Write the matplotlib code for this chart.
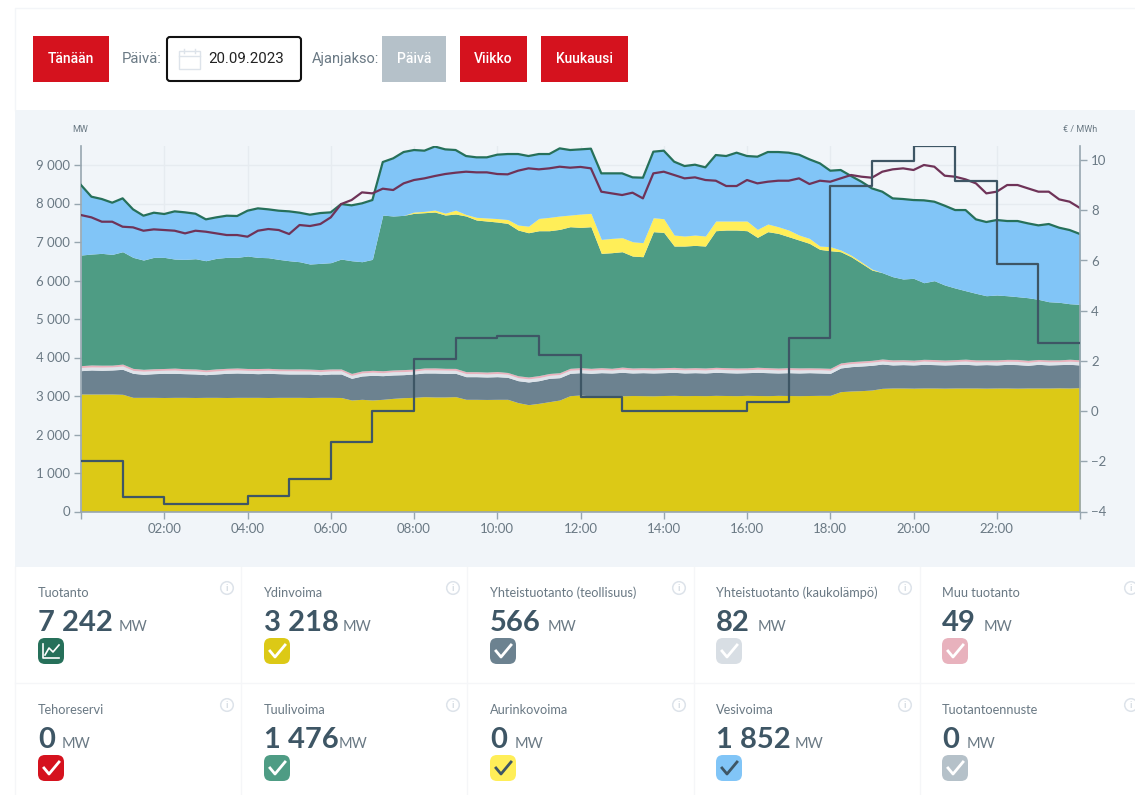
import numpy as np
import matplotlib
matplotlib.use("Agg")
from matplotlib import pyplot as plt
from matplotlib.patches import Rectangle, FancyBboxPatch, Circle

plt.rcParams['font.family'] = ['Lato', 'DejaVu Sans']

# values, one per 15 min from 00:00 to 24:00
top_nuclear = [3052,3052,3052,3052,3044,2965,2965,2965,2961,2965,2965,2961,2965,2965,2961,2965,2965,2965,2961,2965,2965,2965,2961,2965,2965,2961,
               2896,2914,2896,2914,2939,2957,2965,2983,2975,2975,2983,2914,2914,2910,2914,2914,2827,2775,2810,2853,2896,3009,3026,3000,
               3000,3009,3005,3013,3009,3005,3013,3017,3009,3013,3009,3017,3013,3009,3017,3013,3009,3017,3013,3009,3013,3017,3017,
               3113,3130,3139,3156,3199,3208,3208,3204,3208,3208,3204,3208,3208,3208,3204,3208,3208,3204,3208,3208,3208,3212,3208,3217]
top_chp_ind = [3658,3676,3667,3676,3693,3589,3563,3580,3589,3589,3580,3572,3554,3572,3589,3598,3589,3580,3589,3580,3572,3572,3572,3554,3572,3572,
               3459,3520,3537,3528,3546,3554,3572,3598,3598,3589,3589,3502,3502,3494,3502,3485,3398,3364,3398,3459,3476,3589,3606,3589,
               3606,3598,3615,3598,3606,3598,3606,3615,3598,3606,3598,3615,3606,3598,3606,3615,3606,3598,3606,3598,3606,3598,3589,
               3728,3762,3779,3797,3831,3806,3815,3806,3823,3815,3806,3815,3823,3806,3815,3806,3823,3815,3797,3823,3806,3815,3823,3806]
chp_district = [82,78,84,80,86,76,82,78,80,84,78,82,76,80,84,80,78,82,80,76,84,80,78,82,80,84,
                76,80,82,78,84,80,76,82,80,84,78,80,82,76,84,80,78,82,80,76,84,80,78,82,
                80,76,84,82,78,80,84,76,82,80,78,84,80,82,76,80,84,78,82,80,76,84,80,
                78,82,80,84,78,82,80,76,84,80,78,82,84,80,76,82,80,84,78,80,82,76,80,84]
other_prod = [48,52,50,46,50,52,48,50,46,52,50,48,50,52,46,50,48,52,50,50,46,52,48,50,50,46,
              52,50,48,50,46,52,50,48,52,46,50,50,48,52,50,46,50,48,52,50,46,50,52,48,
              50,46,52,48,50,50,46,52,48,50,52,46,50,48,50,52,46,50,48,52,50,46,50,
              52,48,50,46,52,50,48,50,46,52,50,48,50,52,46,50,48,50,52,46,50,48,52,49]
top_wind = [6661,6687,6705,6678,6748,6601,6531,6601,6601,6557,6549,6566,6514,6575,6601,6601,6636,6601,6592,6549,6514,6488,6428,6445,6463,
            6557,6514,6488,6549,7700,7675,7692,7744,7761,7779,7700,7727,7675,7571,7545,7519,7484,7311,7241,7293,7293,7328,7397,7380,
            7397,6705,6722,6748,6635,6618,7268,7250,6895,6895,6912,6895,7293,7311,7311,7293,7120,7268,7224,7138,7051,6964,6808,6774,
            6748,6618,6446,6272,6203,6099,6039,6057,5943,5995,5883,5805,5735,5667,5605,5623,5605,5580,5553,5511,5449,5434,5397,5381]
solar = [0,0,0,0,0,0,0,0,0,0,0,0,0,0,0,0,0,0,0,0,0,0,0,0,0,0,0,0,0,0,0,0,
         35,35,50,50,100,40,70,80,90,100,130,170,320,347,347,303,346,347,363,372,364,373,364,363,355,286,260,269,260,
         252,234,234,252,208,199,173,173,130,130,87,104,45,40,35,25,
         0,0,0,0,0,0,0,0,0,0,0,0,0,0,0,0,0,0,0,0]
total = [8480,8177,8116,8021,8134,7848,7683,7761,7727,7796,7770,7735,7588,7640,7683,7675,7813,7874,7848,7813,7796,7761,7709,7752,7770,
         7986,7952,8004,8090,9077,9173,9337,9389,9372,9480,9406,9389,9233,9199,9199,9268,9285,9285,9233,9285,9285,9432,9389,9406,
         9424,8783,8783,8783,8679,8670,9346,9372,9086,8973,9008,8939,9259,9233,9320,9233,9216,9337,9337,9320,9268,9147,9043,8852,
         8870,8714,8566,8393,8307,8133,8116,8090,8082,8047,7943,7830,7830,7588,7519,7571,7545,7545,7484,7432,7467,7371,7311,7207]
consumption = [7700,7640,7527,7527,7397,7380,7293,7328,7311,7293,7224,7293,7267,7224,7181,7181,7138,7293,7337,7311,7207,7441,7415,7467,7640,
               7986,8090,8289,8263,8385,8350,8523,8610,8653,8714,8766,8800,8826,8809,8809,8766,8757,8852,8913,8887,8913,8956,8930,8950,
               8913,8307,8263,8220,8281,8133,8783,8826,8740,8653,8679,8610,8592,8454,8454,8610,8523,8566,8592,8592,8653,8506,8592,8566,
               8653,8740,8696,8670,8826,8887,8913,8870,9000,8956,8722,8696,8627,8523,8263,8307,8480,8480,8393,8307,8307,8107,8047,7882]
# hourly price, eur/MWh
price = [-2.0,-3.43,-3.7,-3.7,-3.4,-2.7,-1.25,0.0,2.08,2.9,3.0,2.25,0.55,0.0,0.0,0.0,0.37,2.93,8.95,9.98,10.55,9.17,5.85,2.7]

x_labels = ["02:00","04:00","06:00","08:00","10:00","12:00","14:00","16:00","18:00","20:00","22:00"]
cards = [["Tuotanto","7 242",119,"#26705A","w"],["Ydinvoima","3 218",343,"#DCC916","w"],
         ["Yhteistuotanto (teollisuus)","566",548,"#6C8290","w"],["Yhteistuotanto (kaukolämpö)","82",758,"#D8DEE4","w"],
         ["Muu tuotanto","49",984,"#E8B2BD","w"],["Tehoreservi","0",62,"#D5121E","w"],["Tuulivoima","1 476",339,"#4E9C84","w"],
         ["Aurinkovoima","0",515,"#FFEE58","d"],["Vesivoima","1 852",795,"#81C5F7","d"],["Tuotantoennuste","0",967,"#B5C1C9","w"]]

W, H = 1135, 795
RED = "#D5121E"
TXT = "#6A7984"
DARK = "#3E5665"

fig = plt.figure(figsize=(W/100, H/100), dpi=100, facecolor="white")
ui = fig.add_axes([0, 0, 1, 1])
ui.set_xlim(0, W)
ui.set_ylim(H, 0)
ui.axis("off")

def button(x0, x1, label, color=RED):
    ui.add_patch(Rectangle((x0, 36), x1-x0, 46, fc=color, ec="none"))
    ui.text((x0+x1)/2, 59, label, color="white", fontsize=10, ha="center", va="center", family="Roboto", weight="medium")

# page frame and toolbar
ui.plot([15, 15, W], [110, 8, 8], color="#F3F5F8", lw=1)
ui.add_patch(Rectangle((15, 110), W-15, 457, fc="#F1F5F9", ec="none"))
button(33, 109, "Tänään")
ui.text(122, 59, "Päivä:", color=TXT, fontsize=10.7, va="center", family="Roboto")
ui.add_patch(FancyBboxPatch((167, 37), 134, 44, boxstyle="round,pad=0,rounding_size=3", fc="white", ec="#111111", lw=1.5))
ui.add_patch(Rectangle((179, 51), 21, 18, fc="none", ec="#DDE3EA", lw=1))
ui.plot([179, 200], [56, 56], color="#DDE3EA", lw=1)
ui.plot([184, 184], [49, 53], color="#DDE3EA", lw=1)
ui.plot([195, 195], [49, 53], color="#DDE3EA", lw=1)
ui.text(208, 59, "20.09.2023", color="#222222", fontsize=10.8, va="center", family="Roboto")
ui.text(312, 59, "Ajanjakso:", color=TXT, fontsize=10.5, va="center", family="Roboto")
button(382, 446, "Päivä", "#B5C1C9")
button(460, 527, "Viikko")
button(541, 628, "Kuukausi")
ui.text(80, 129, "MW", color=TXT, fontsize=6.5, ha="center", va="center", family="Roboto")
ui.text(1080, 129, "€ / MWh", color=TXT, fontsize=6.5, ha="center", va="center", family="Roboto")

# cards
for cx in [15, 241, 467, 693.5, 920]:
    ui.plot([cx, cx], [567, H], color="#F5F6F8", lw=1)
ui.plot([15, W], [683, 683], color="#F5F6F8", lw=1)
for i, (name, value, unit_x, col, mark) in enumerate(cards):
    x = 38 + 226*(i % 5)
    if i % 5 == 4:
        x = 942
    elif i % 5 == 3:
        x = 716
    y = 0 if i < 5 else 117
    ui.text(x, 593+y, name, color=TXT, fontsize=9.2, va="center")
    ui.text(x, 631+y, value, color=DARK, fontsize=21, weight="bold", va="baseline")
    ui.text(unit_x, 631+y, "MW", color=TXT, fontsize=10.5, va="baseline")
    ui.add_patch(FancyBboxPatch((x+5, 643+y), 16, 16, boxstyle="round,pad=5,rounding_size=7", fc=col, ec="none"))
    mc = "white" if mark == "w" else DARK
    if i == 0:
        ui.plot([x+5, x+5, x+21], [644, 658, 658], color="white", lw=1.2)
        ui.plot([x+7, x+11, x+15, x+21], [655, 648, 652, 645], color="white", lw=1.2)
    else:
        ui.plot([x+6, x+11, x+21], [651+y, 657+y, 645+y], color=mc, lw=2)
    ix = x + 189
    ui.add_patch(Circle((ix, 588+y), 6.3, fc="none", ec="#DDE3EA", lw=1.1))
    ui.text(ix, 588.5+y, "i", color="#C6CFD8", fontsize=7, ha="center", va="center")

# chart
ax = fig.add_axes([81/W, 1-511.5/H, (1080-81)/W, (511.5-146)/H])
ax.patch.set_alpha(0)
hours = np.arange(97)/4
n_top = np.array(top_nuclear)
c_top = np.array(top_chp_ind)
d_top = c_top + np.array(chp_district)
o_top = d_top + np.array(other_prod)
w_top = np.array(top_wind)
s_top = w_top + np.array(solar)
t_top = np.array(total)

ax.fill_between(hours, 0, n_top, color="#DCC916", lw=0, zorder=2)
ax.fill_between(hours, n_top, c_top, color="#6C8290", lw=0, zorder=2)
ax.fill_between(hours, c_top, d_top, color="#DEE4EA", lw=0, zorder=2)
ax.fill_between(hours, d_top, o_top, color="#E8B2BD", lw=0, zorder=2)
ax.fill_between(hours, o_top, w_top, color="#4E9C84", lw=0, zorder=2)
ax.fill_between(hours, w_top, s_top, color="#FFEE58", lw=0, zorder=2)
ax.fill_between(hours, s_top, t_top, color="#81C5F7", lw=0, zorder=2)
ax.plot(hours, t_top, color="#26705A", lw=1.6, zorder=3)
ax.plot(hours, consumption, color="#6F3358", lw=1.6, zorder=4)

ax.set_xlim(0, 24)
ax.set_ylim(0, (511.5-146)/0.0385)
ax.set_xticks(range(2, 24, 2), x_labels)
ax.set_yticks(range(0, 10000, 1000), ["0"] + ["%d 000" % v for v in range(1, 10)])
ax.grid(color="#E6EBF0", lw=1, zorder=0)
ax.set_axisbelow(True)
ax.tick_params(colors="#97A6B0", labelcolor=TXT, labelsize=9.5, length=5, width=1, pad=3)
ax.set_xticks([0, 24], minor=True)
ax.tick_params(which="minor", axis="x", colors="#97A6B0", length=5, width=1)
for s in ["top", "right"]:
    ax.spines[s].set_visible(False)
for s in ["left", "bottom"]:
    ax.spines[s].set_color("#97A6B0")
    ax.spines[s].set_linewidth(1.2)

ax2 = ax.twinx()
ax2.step(np.arange(25), price + price[-1:], where="post", color="#3E5665", lw=1.6, zorder=6)
ax2.set_ylim(-4, (511.5-146)/25.1-4)
ax2.set_yticks(range(-4, 11, 2))
ax2.tick_params(colors="#97A6B0", labelcolor=TXT, labelsize=9.5, length=5, width=1, pad=3)
for s in ["top", "left", "bottom"]:
    ax2.spines[s].set_visible(False)
ax2.spines["right"].set_color("#97A6B0")
ax2.spines["right"].set_linewidth(1.2)

fig.savefig("out.png", dpi=100)
